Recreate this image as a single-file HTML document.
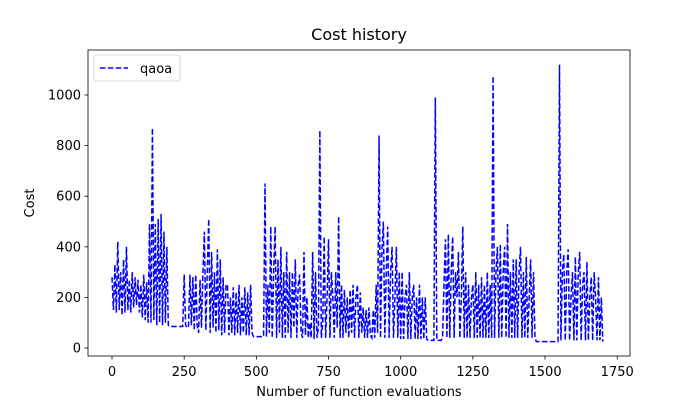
<!DOCTYPE html>
<html><head><meta charset="utf-8"><style>
body{margin:0;background:#fff;}
svg text{font-family:"DejaVu Sans","Liberation Sans",sans-serif;fill:#000;}
</style></head><body>
<svg id="chart" width="700" height="400" viewBox="0 0 700 400">
<rect x="0" y="0" width="700" height="400" fill="#fff"/>
<text x="359" y="40" font-size="16" text-anchor="middle">Cost history</text>
<g id="plot"></g>
<rect x="88" y="50" width="542" height="306" fill="none" stroke="#000" stroke-width="0.8"/>
<g id="xticks"></g>
<g id="yticks"></g>
<text x="359" y="396" font-size="13" text-anchor="middle">Number of function evaluations</text>
<text x="0" y="0" font-size="13" text-anchor="middle" transform="translate(34,203) rotate(-90)">Cost</text>
<g>
<rect x="94" y="55" width="86" height="26" rx="3" fill="#fff" stroke="#ccc" stroke-width="0.8"/>
<line x1="100" y1="68" x2="128" y2="68" stroke="#0000ff" stroke-width="1.5" stroke-dasharray="5.5,2.4"/>
<text x="140" y="73" font-size="13">qaoa</text>
</g>
</svg>
<script>
const stepX = 5;
const costValues = [
280,150,330,140,420,150,300,130,350,140,400,150,270,140,300,160,280,170,270,140,
250,120,290,110,260,100,490,100,870,110,490,90,510,100,530,90,460,100,400,90,
85,85,85,85,85,85,85,85,85,85,290,90,80,85,290,90,280,70,290,90,
60,270,80,300,460,70,300,510,60,380,80,300,60,390,70,350,50,280,60,250,
250,50,200,60,240,50,220,60,250,50,200,60,240,50,220,50,250,60,45,45,
45,45,45,45,45,45,650,45,250,60,480,40,300,480,40,350,60,400,40,300,
40,380,60,300,40,300,80,350,40,250,290,60,40,380,50,200,40,100,40,380,
35,300,40,80,860,40,100,440,40,200,430,40,300,200,40,300,80,520,40,250,
40,230,60,200,40,230,60,250,40,200,250,40,220,60,160,40,150,40,160,50,
40,150,40,250,60,840,40,380,500,40,300,480,40,300,400,40,200,400,40,300,
35,300,35,200,250,35,300,35,200,250,35,200,35,250,35,200,35,200,35,30,
30,30,30,30,990,30,30,30,30,40,250,430,40,450,40,300,440,40,300,200,
380,40,200,480,40,300,40,250,40,200,250,40,300,40,250,40,280,40,250,40,
300,40,250,40,1075,40,300,400,40,410,40,300,400,40,490,40,300,40,350,40,
350,40,300,400,40,300,40,360,40,200,350,40,300,40,25,25,25,25,25,25,
25,25,25,25,25,25,25,25,25,25,1120,30,300,370,30,300,390,30,200,300,
30,360,30,300,380,30,250,300,30,340,30,200,280,30,300,200,30,280,30,200,
25
];
const xTicks = [0,250,500,750,1000,1250,1500,1750];
const yTicks = [0,200,400,600,800,1000];

const NS = "http://www.w3.org/2000/svg";
function xs(v){ return 112 + v * 0.2887; }
function ys(v){ return 348 - v * 0.253; }

const plot = document.getElementById('plot');
let d = '';
costValues.forEach((v,i)=>{ d += (i?'L':'M') + xs(i*stepX).toFixed(2) + ',' + ys(v).toFixed(2); });
const path = document.createElementNS(NS,'path');
path.setAttribute('d', d);
path.setAttribute('fill','none');
path.setAttribute('stroke','#0000ff');
path.setAttribute('stroke-width','1.5');
path.setAttribute('stroke-dasharray','5.5,2.4');


plot.appendChild(path);

const xg = document.getElementById('xticks');
xTicks.forEach(t=>{
  const l = document.createElementNS(NS,'line');
  l.setAttribute('x1',xs(t)); l.setAttribute('x2',xs(t));
  l.setAttribute('y1',356); l.setAttribute('y2',359.5);
  l.setAttribute('stroke','#000'); l.setAttribute('stroke-width','0.8');
  
  
  xg.appendChild(l);
  const tx = document.createElementNS(NS,'text');
  tx.setAttribute('x',xs(t)); tx.setAttribute('y',376);
  tx.setAttribute('font-size','13'); tx.setAttribute('text-anchor','middle');
  tx.textContent = t;
  
  
  xg.appendChild(tx);
});
const yg = document.getElementById('yticks');
yTicks.forEach(t=>{
  const l = document.createElementNS(NS,'line');
  l.setAttribute('x1',84.5); l.setAttribute('x2',88);
  l.setAttribute('y1',ys(t)); l.setAttribute('y2',ys(t));
  l.setAttribute('stroke','#000'); l.setAttribute('stroke-width','0.8');
  
  
  yg.appendChild(l);
  const tx = document.createElementNS(NS,'text');
  tx.setAttribute('x',81); tx.setAttribute('y',ys(t)+4.5);
  tx.setAttribute('font-size','13'); tx.setAttribute('text-anchor','end');
  tx.textContent = t;
  
  
  yg.appendChild(tx);
});
</script>
</body></html>
